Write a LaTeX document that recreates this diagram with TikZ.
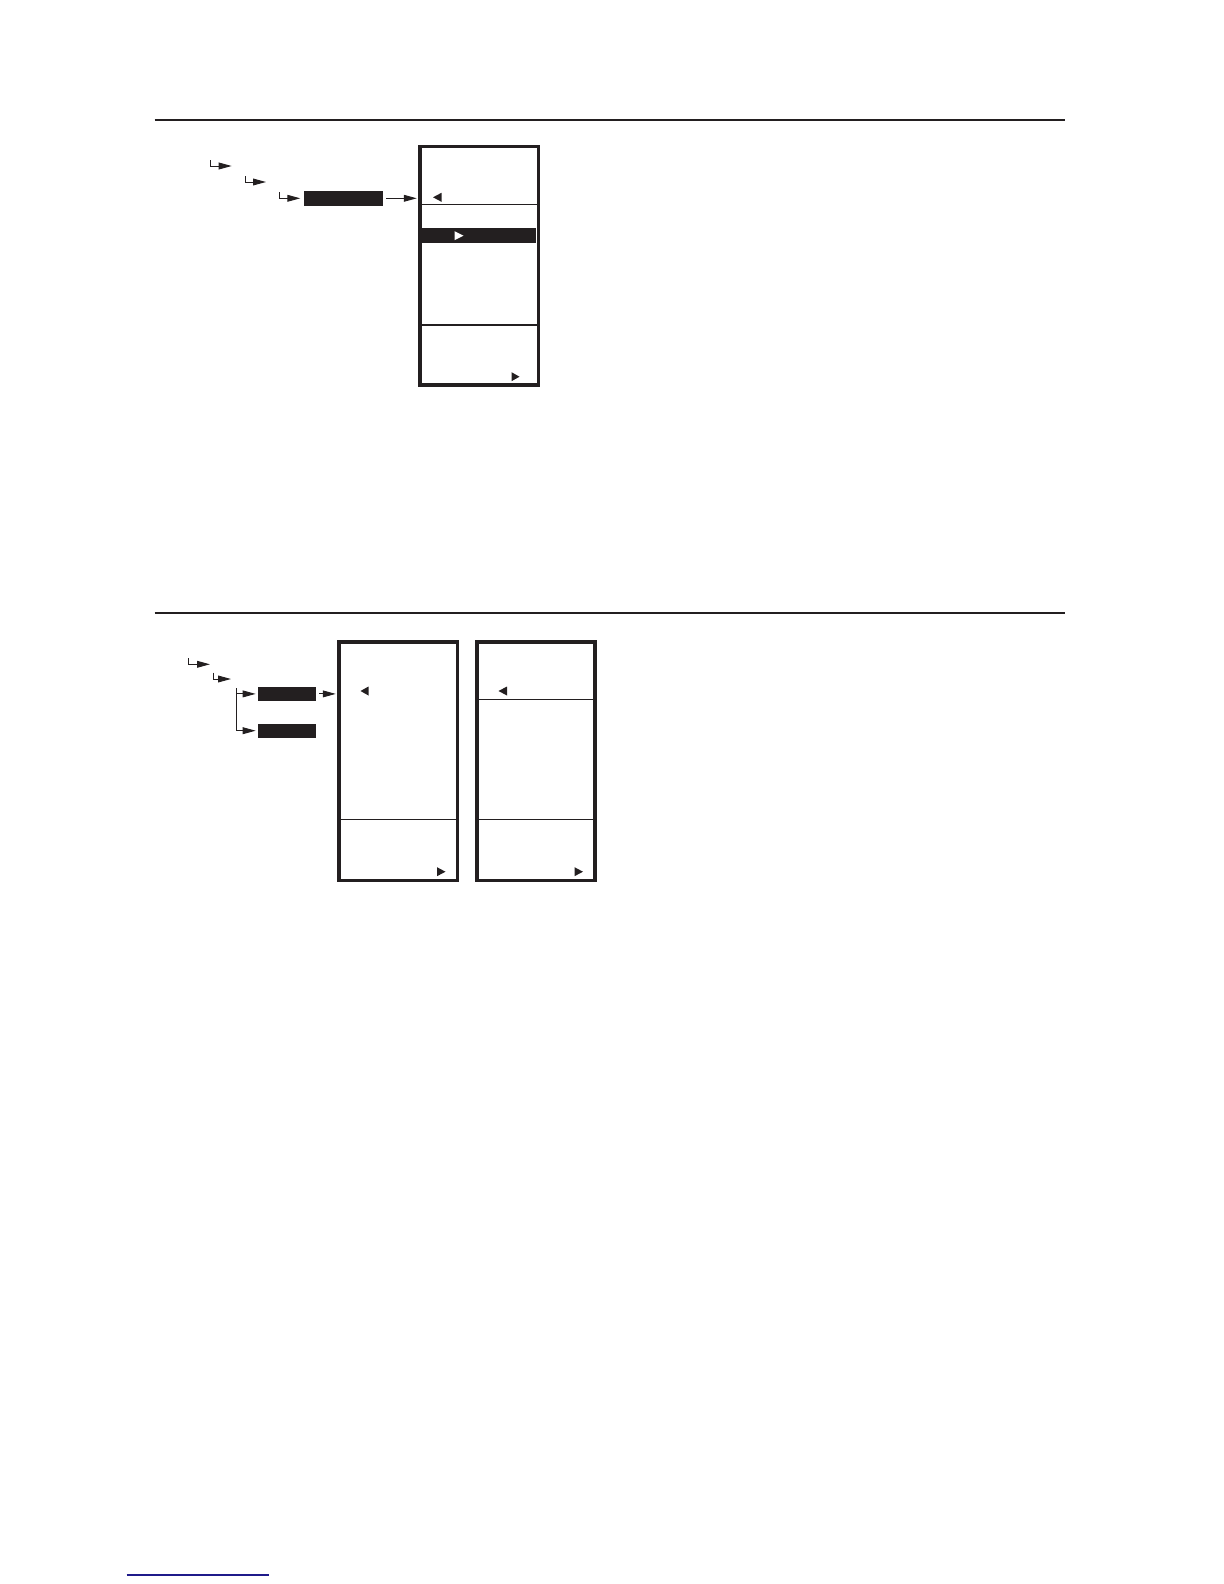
\documentclass[tikz,border=0pt]{standalone}
\usepackage{tikz}
\usetikzlibrary{arrows.meta}
\definecolor{ink}{HTML}{231F20}
\definecolor{linkblue}{HTML}{1F1A8A}

\begin{document}
\begin{tikzpicture}[x=0.5pt,y=-0.5pt,
  tip/.style={-{Triangle[length=6.5pt,width=3.4pt]},draw=ink,line width=0.5pt},
  menu/.style={draw=ink,line width=1.8pt,inner sep=0pt,outer sep=0pt,anchor=north west,
    minimum width=59.4pt,minimum height=119.3pt},
  key/.style={fill=ink,inner sep=0pt,outer sep=0pt}]
\useasboundingbox (0,0) rectangle (1224,1584);

% upper section
\draw[ink,line width=1pt] (154.5,120) -- (1065,120);
\node[menu] (menuA) at (419.8,146.5) {};
\node[key,minimum width=39.5pt,minimum height=7.6pt] (keyA) at (343.8,198.3) {};
\coordinate (hookA) at (231.7,166);
\coordinate (hookB) at (266,182);
\draw[tip] (210,160) |- (hookA);
\draw[tip] (245,176) |- (hookB);
\draw[tip,shorten >=2pt] (279.3,192) |- (keyA.west);
\draw[tip,shorten <=1.5pt,shorten >=1.5pt] (keyA.east) -- (keyA.east -| menuA.west);
\draw[ink,line width=0.5pt] (419.8,204.3) -- (538.5,204.3);
\draw[ink,line width=0.8pt] (419.8,325) -- (538.5,325);
\fill[ink] (421.7,228.3) rectangle (535.7,242.7);
\fill[white] (454.5,231.2) -- (454.5,240.2) -- (463.5,235.7) -- cycle;
\fill[ink] (433,197.3) -- (441.5,192.8) -- (441.5,201.8) -- cycle;
\fill[ink] (511.5,372.2) -- (511.5,381.2) -- (519.5,376.7) -- cycle;

% lower section
\draw[ink,line width=1pt] (154.5,612.7) -- (1065,612.7);
\node[menu] (menuB) at (338.8,641.8) {};
\node[menu,minimum width=59pt] (menuC) at (477.2,641.8) {};
\node[key,minimum width=29.2pt,minimum height=7.2pt] (keyB) at (286.9,693.9) {};
\node[key,minimum width=29.2pt,minimum height=7.2pt] (keyC) at (286.9,730.7) {};
\coordinate (hookC) at (210,664.3);
\coordinate (hookD) at (231,679);
\draw[tip] (188.3,658.3) |- (hookC);
\draw[tip] (213.3,672.7) |- (hookD);
\draw[tip,shorten >=1pt] (236.7,688.3) |- (keyB.west);
\draw[tip,shorten >=1pt] (236.7,693.9) |- (keyC.west);
\draw[tip,shorten <=1.5pt,shorten >=1.5pt] (keyB.east) -- (keyB.east -| menuB.west);
\draw[ink,line width=0.5pt] (338.8,819.3) -- (457.5,819.3);
\draw[ink,line width=0.5pt] (477.2,699.3) -- (595.2,699.3);
\draw[ink,line width=0.5pt] (477.2,819.3) -- (595.2,819.3);
\fill[ink] (360.5,691) -- (368.5,686.5) -- (368.5,695.5) -- cycle;
\fill[ink] (498.5,691) -- (507,686.5) -- (507,695.5) -- cycle;
\fill[ink] (437,867.2) -- (437,876.2) -- (445.5,871.7) -- cycle;
\fill[ink] (574.5,867.2) -- (574.5,876.2) -- (583,871.7) -- cycle;

% footer link
\draw[linkblue,line width=0.6pt] (126.7,1575) -- (269,1575);
\end{tikzpicture}
\end{document}
